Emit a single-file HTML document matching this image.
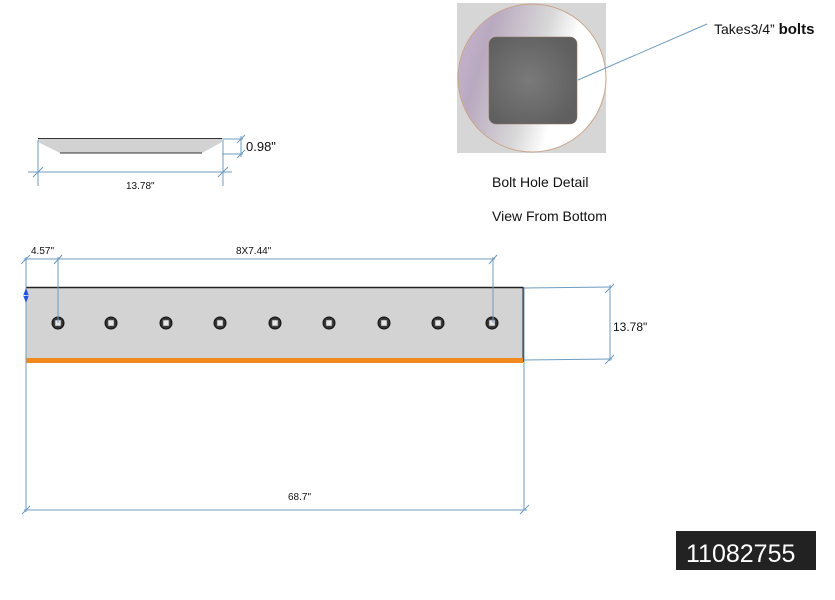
<!DOCTYPE html>
<html><head><meta charset="utf-8"><style>
html,body{margin:0;padding:0;background:#fff;}
svg{display:block;}
text{font-family:"Liberation Sans",sans-serif;}
</style></head><body>
<svg width="835" height="600" viewBox="0 0 835 600" xmlns="http://www.w3.org/2000/svg">
<defs>
<linearGradient id="ring" x1="0" y1="0" x2="1" y2="0.3">
<stop offset="0" stop-color="#c9b6d2"/><stop offset="0.25" stop-color="#b9a9bf"/><stop offset="0.6" stop-color="#d8d8d8"/><stop offset="0.8" stop-color="#ffffff"/><stop offset="1" stop-color="#ffffff"/>
</linearGradient>
<radialGradient id="sq" cx="0.45" cy="0.5" r="0.6"><stop offset="0" stop-color="#7a7a7a"/><stop offset="1" stop-color="#5f5f5f"/></radialGradient>
</defs>
<!-- bolt detail -->
<rect x="457" y="3" width="149" height="150" fill="#d6d6d6"/>
<circle cx="532" cy="78" r="74" fill="url(#ring)" stroke="#c9a58c" stroke-width="1"/>
<rect x="489" y="37" width="88" height="87" rx="7" fill="url(#sq)" stroke="#8a7060" stroke-width="0.6"/>
<line x1="578" y1="80" x2="707" y2="24" stroke="#6f9cc0" stroke-width="1"/>
<text x="714" y="34" font-size="14" fill="#111">Takes3/4” <tspan font-weight="bold" font-size="15">bolts</tspan></text>
<text x="492" y="187" font-size="14" fill="#111">Bolt Hole Detail</text>
<text x="492" y="221" font-size="14" fill="#111">View From Bottom</text>

<!-- side profile -->
<path d="M38 138 L222 138 L222 142 L202 153 L60 153 L38 142 Z" fill="#d2d2d2"/>
<line x1="38" y1="138.5" x2="222" y2="138.5" stroke="#333" stroke-width="1"/>
<line x1="60" y1="153" x2="202" y2="153" stroke="#333" stroke-width="1"/>
<g stroke="#6f9cc0" stroke-width="1" fill="none">
<line x1="38" y1="140" x2="38" y2="186"/>
<line x1="223" y1="140" x2="223" y2="186"/>
<line x1="28" y1="172" x2="232" y2="172"/>
<line x1="33" y1="177" x2="43" y2="167"/>
<line x1="218" y1="177" x2="228" y2="167"/>
<line x1="222" y1="139" x2="243" y2="139"/>
<line x1="222" y1="154" x2="243" y2="154"/>
<line x1="241" y1="136" x2="241" y2="157"/>
<line x1="237" y1="143" x2="245" y2="135"/>
<line x1="237" y1="158" x2="245" y2="150"/>
</g>
<text x="246" y="151" font-size="13" fill="#111">0.98"</text>
<text x="126" y="189" font-size="10" fill="#111">13.78"</text>

<!-- main bar -->
<rect x="26" y="287" width="497" height="74" fill="#d3d3d3"/>
<line x1="26" y1="287.5" x2="523" y2="287.5" stroke="#222" stroke-width="1.5"/>
<line x1="523" y1="287" x2="523" y2="362" stroke="#222" stroke-width="1"/>
<rect x="26" y="358" width="497" height="5" fill="#f08a1e"/>
<g fill="#333" stroke="#111" stroke-width="1">
<circle cx="58" cy="323" r="6"/><circle cx="111" cy="323" r="6"/><circle cx="166" cy="323" r="6"/><circle cx="220" cy="323" r="6"/><circle cx="275" cy="323" r="6"/><circle cx="329" cy="323" r="6"/><circle cx="384" cy="323" r="6"/><circle cx="438" cy="323" r="6"/><circle cx="492" cy="323" r="6"/>
</g>
<g fill="#e6e6e6" stroke="#555" stroke-width="0.6">
<rect x="55" y="320" width="6" height="6"/><rect x="108" y="320" width="6" height="6"/><rect x="163" y="320" width="6" height="6"/><rect x="217" y="320" width="6" height="6"/><rect x="272" y="320" width="6" height="6"/><rect x="326" y="320" width="6" height="6"/><rect x="381" y="320" width="6" height="6"/><rect x="435" y="320" width="6" height="6"/><rect x="489" y="320" width="6" height="6"/>
</g>
<g stroke="#6f9cc0" stroke-width="1" fill="none">
<line x1="24" y1="259" x2="495" y2="259"/>
<line x1="26" y1="257" x2="26" y2="512"/>
<line x1="58" y1="257" x2="58" y2="323"/>
<line x1="493" y1="257" x2="493" y2="323"/>
<line x1="21" y1="264" x2="30" y2="255"/>
<line x1="54" y1="264" x2="62" y2="255"/>
<line x1="489" y1="264" x2="497" y2="255"/>
<line x1="524" y1="287" x2="524" y2="510"/>
<line x1="524" y1="288" x2="612" y2="287"/>
<line x1="524" y1="360" x2="612" y2="359"/>
<line x1="610" y1="285" x2="610" y2="361"/>
<line x1="605" y1="293" x2="614" y2="284"/>
<line x1="605" y1="364" x2="614" y2="355"/>
<line x1="24" y1="510" x2="527" y2="510"/>
<line x1="22" y1="514" x2="30" y2="506"/>
<line x1="520" y1="514" x2="529" y2="505"/>
</g>
<path d="M26 288 L23 296 L29 296 Z M26 303 L23 295 L29 295 Z" fill="#2255dd"/>
<text x="31" y="254" font-size="10" fill="#111">4.57"</text>
<text x="236" y="254" font-size="10" fill="#111">8X7.44"</text>
<text x="613" y="331" font-size="12" fill="#111">13.78"</text>
<text x="288" y="500" font-size="10" fill="#111">68.7"</text>

<rect x="676" y="531" width="140" height="39" fill="#222"/>
<text x="686" y="562" font-size="25" fill="#fff">11082755</text>
</svg>
</body></html>
